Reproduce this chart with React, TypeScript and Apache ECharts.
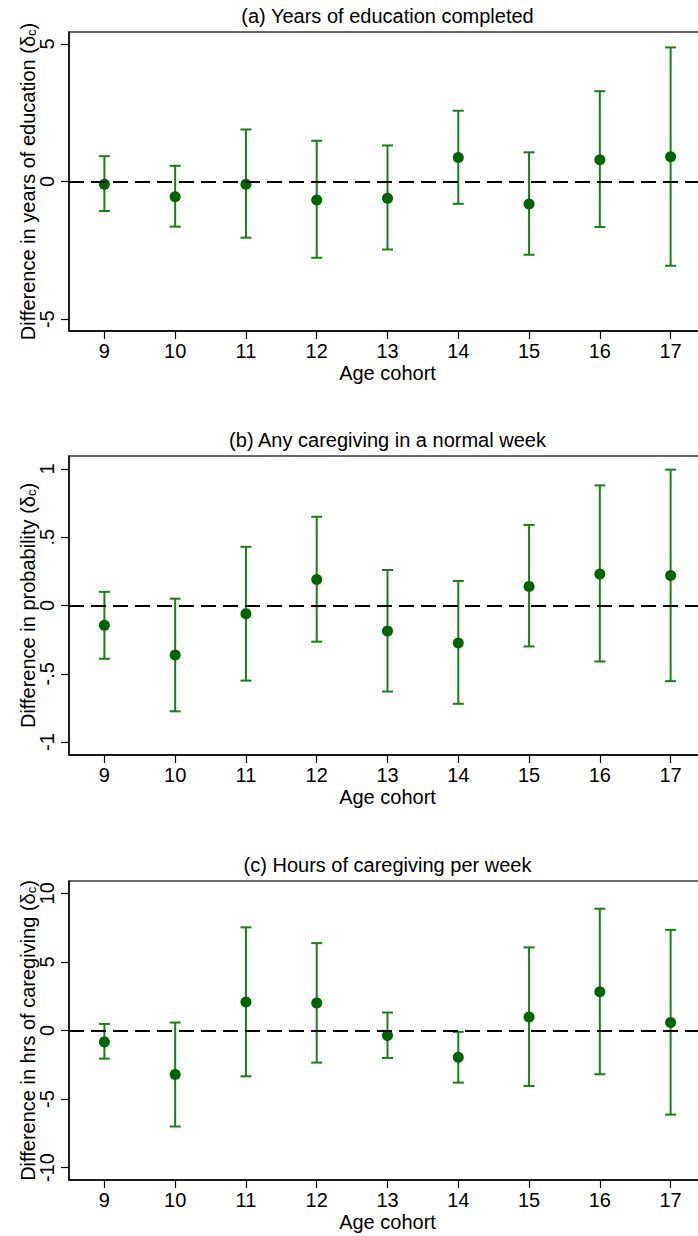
import React, { useEffect, useRef } from "react";
import * as echarts from "echarts";

const cohorts = ["9", "10", "11", "12", "13", "14", "15", "16", "17"];

// (a) Years of education completed
const eduEst = [-0.1, -0.55, -0.1, -0.67, -0.61, 0.87, -0.82, 0.79, 0.9];
const eduLo = [-1.07, -1.64, -2.04, -2.77, -2.47, -0.81, -2.66, -1.65, -3.06];
const eduHi = [0.92, 0.57, 1.89, 1.48, 1.31, 2.57, 1.06, 3.28, 4.87];

// (b) Any caregiving in a normal week
const careEst = [-0.145, -0.363, -0.06, 0.19, -0.187, -0.275, 0.14, 0.23, 0.22];
const careLo = [-0.39, -0.775, -0.55, -0.265, -0.63, -0.72, -0.3, -0.41, -0.554];
const careHi = [0.1, 0.05, 0.43, 0.65, 0.26, 0.18, 0.59, 0.88, 0.995];

// (c) Hours of caregiving per week
const hrsEst = [-0.83, -3.21, 2.07, 2.01, -0.36, -1.95, 0.99, 2.82, 0.58];
const hrsLo = [-2.05, -7.0, -3.34, -2.34, -2.0, -3.8, -4.04, -3.19, -6.13];
const hrsHi = [0.48, 0.58, 7.52, 6.37, 1.31, -0.1, 6.06, 8.88, 7.34];

const panelTitles = [
  "(a) Years of education completed",
  "(b) Any caregiving in a normal week",
  "(c) Hours of caregiving per week",
];
const yTitles = [
  "Difference in years of education (δ",
  "Difference in probability (δ",
  "Difference in hrs of caregiving (δ",
];
const xTitle = "Age cohort";
const yTickValues = [
  [-5, 0, 5],
  [-1, -0.5, 0, 0.5, 1],
  [-10, -5, 0, 5, 10],
];
const yRanges = [
  [-5.43, 5.43],
  [-1.095, 1.095],
  [-10.9, 10.9],
];

const panels = [
  { est: eduEst, lo: eduLo, hi: eduHi },
  { est: careEst, lo: careLo, hi: careHi },
  { est: hrsEst, lo: hrsLo, hi: hrsHi },
];

const FONT = "'Liberation Sans', Arial, Helvetica, sans-serif";
const BAR_COLOR = "#1b7d1b";
const DOT_COLOR = "#006400";
const GRID_LEFT = 69;
const GRID_RIGHT_EDGE = 706;
const CHART_W = 720;
const CHART_H = 1236;
const GRID_TOPS = [32, 456, 881];
const GRID_H = 299;

export default function App() {
  const ref = useRef<HTMLDivElement>(null);

  useEffect(() => {
    if (!ref.current) return;
    const chart = echarts.init(ref.current, undefined, { renderer: "svg" });

    const grids: any[] = [];
    const xAxes: any[] = [];
    const yAxes: any[] = [];
    const series: any[] = [];
    const graphics: any[] = [];
    const cx = (GRID_LEFT + GRID_RIGHT_EDGE) / 2;

    panels.forEach((p, k) => {
      const top = GRID_TOPS[k];
      grids.push({
        left: GRID_LEFT,
        top,
        width: GRID_RIGHT_EDGE - GRID_LEFT,
        height: GRID_H,
        show: true,
        borderColor: "#3a3a3a",
        borderWidth: 1.3,
        backgroundColor: "transparent",
      });
      xAxes.push({
        type: "category",
        gridIndex: k,
        data: cohorts,
        boundaryGap: true,
        axisLine: { show: true, onZero: false, lineStyle: { color: "#000", width: 1.5 } },
        axisTick: { show: true, alignWithLabel: true, length: 8, lineStyle: { color: "#000", width: 1.2 } },
        axisLabel: { show: true, color: "#000", fontSize: 20, fontFamily: FONT, margin: 10, interval: 0 },
        splitLine: { show: false },
      });
      yAxes.push({
        type: "value",
        gridIndex: k,
        min: yRanges[k][0],
        max: yRanges[k][1],
        axisLine: { show: true, lineStyle: { color: "#000", width: 1.5 } },
        axisTick: {
          show: true,
          length: 8,
          customValues: yTickValues[k],
          lineStyle: { color: "#000", width: 1.2 },
        },
        axisLabel: {
          show: true,
          rotate: 90,
          customValues: yTickValues[k],
          color: "#000",
          fontSize: 20,
          fontFamily: FONT,
          margin: 12,
          formatter: (v: number) => String(v).replace("0.", "."),
        },
        splitLine: { show: false },
      });
      series.push({
        type: "custom",
        xAxisIndex: k,
        yAxisIndex: k,
        z: 2,
        encode: { x: 0, y: [1, 2] },
        data: cohorts.map((_, i) => [i, p.lo[i], p.hi[i]]),
        renderItem: (params: any, api: any) => {
          const x = api.value(0);
          const pLo = api.coord([x, api.value(1)]);
          const pHi = api.coord([x, api.value(2)]);
          const hw = 5.5;
          const style = { stroke: BAR_COLOR, lineWidth: 2, fill: "none" };
          return {
            type: "group",
            children: [
              { type: "line", shape: { x1: pLo[0], y1: pLo[1], x2: pHi[0], y2: pHi[1] }, style },
              { type: "line", shape: { x1: pLo[0] - hw, y1: pLo[1], x2: pLo[0] + hw, y2: pLo[1] }, style },
              { type: "line", shape: { x1: pHi[0] - hw, y1: pHi[1], x2: pHi[0] + hw, y2: pHi[1] }, style },
            ],
          };
        },
        markLine: {
          silent: true,
          symbol: ["none", "none"],
          label: { show: false },
          lineStyle: { color: "#000", type: [15, 7], width: 2 },
          data: [{ yAxis: 0 }],
        },
      });
      series.push({
        type: "scatter",
        xAxisIndex: k,
        yAxisIndex: k,
        z: 3,
        symbol: "circle",
        symbolSize: 11,
        itemStyle: { color: DOT_COLOR, opacity: 1 },
        data: p.est,
      });

      graphics.push({
        type: "text",
        x: cx,
        y: top - 16,
        style: {
          text: panelTitles[k],
          fontSize: 20,
          fontFamily: FONT,
          fill: "#000",
          align: "center",
          verticalAlign: "middle",
        },
      });
      graphics.push({
        type: "text",
        x: cx,
        y: top + GRID_H + 42,
        style: {
          text: xTitle,
          fontSize: 20,
          fontFamily: FONT,
          fill: "#000",
          align: "center",
          verticalAlign: "middle",
        },
      });
      graphics.push({
        type: "text",
        x: 28,
        y: top + GRID_H / 2,
        rotation: Math.PI / 2,
        style: {
          text: "{m|" + yTitles[k] + "}{s|c}{m|)}",
          fill: "#000",
          align: "center",
          verticalAlign: "middle",
          rich: {
            m: { fontSize: 20, fontFamily: FONT, fill: "#000", lineHeight: 20, verticalAlign: "bottom" },
            s: { fontSize: 13, fontFamily: FONT, fill: "#000", lineHeight: 6, verticalAlign: "bottom" },
          },
        },
      });
    });

    chart.setOption({
      animation: false,
      backgroundColor: "#fff",
      grid: grids,
      xAxis: xAxes,
      yAxis: yAxes,
      series,
      graphic: graphics,
    });

    return () => chart.dispose();
  }, []);

  return (
    <div
      style={{
        position: "absolute",
        left: 0,
        top: 0,
        width: 698,
        height: CHART_H,
        overflow: "hidden",
        background: "#fff",
      }}
    >
      <div ref={ref} style={{ width: CHART_W, height: CHART_H }} />
    </div>
  );
}
